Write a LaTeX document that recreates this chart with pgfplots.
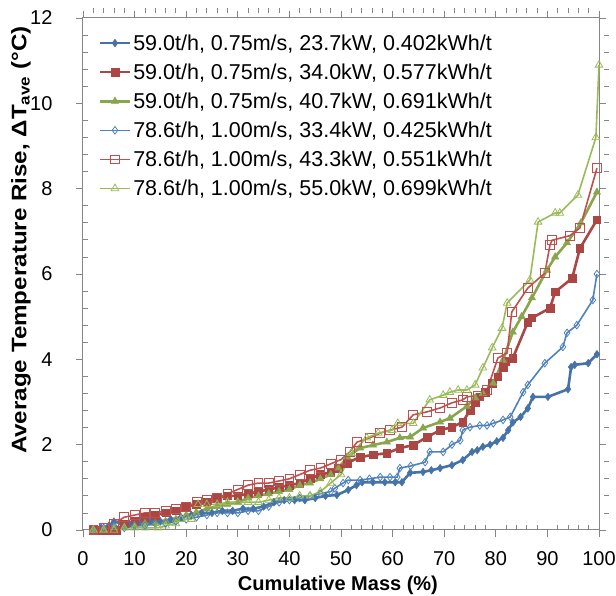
\documentclass[border=0pt]{standalone}
\usepackage{graphicx}
\usepackage{pgfplots}
\pgfplotsset{compat=1.18}
\usepackage{fontspec}
\setmainfont{Liberation Sans}
\definecolor{blueD}{RGB}{69,114,167}
\definecolor{redD}{RGB}{170,70,67}
\definecolor{greenD}{RGB}{137,165,78}
\definecolor{blueL}{RGB}{79,129,189}
\definecolor{redL}{RGB}{192,80,77}
\definecolor{greenL}{RGB}{155,187,89}
\definecolor{axgray}{RGB}{134,134,134}
\begin{document}
\begin{tikzpicture}
\begin{axis}[
  scale only axis, width=516pt, height=512pt,
  xmin=0, xmax=100, ymin=0, ymax=12,
  xtick={0,10,...,100}, ytick={0,2,...,12},
  minor x tick num=4, minor y tick num=4,
  tick align=outside,
  major tick length=7pt, minor tick length=5pt,
  minor x tick style={yshift=5pt},
  minor y tick style={xshift=5pt},
  axis line style={axgray, line width=1pt},
  every tick/.style={axgray, line width=0.8pt},
  /pgf/number format/assume math mode=true,
  ticklabel style={font=\fontsize{20}{23}\selectfont},
  xticklabel style={yshift=-11pt},
  yticklabel style={xshift=-20pt},
  xlabel={\textbf{Cumulative Mass (\%)}},
  ylabel={\scalebox{1.15}[1]{\textbf{Average Temperature Rise, ΔT\textsubscript{ave} (°C)}}},
  label style={font=\fontsize{21}{24}\selectfont},
  xlabel style={at={(axis description cs:0.494,-0.109)}, anchor=center, font=\fontsize{20}{23}\selectfont},
  ylabel style={at={(axis description cs:-0.120,0.566)}, anchor=center},
  legend cell align=left,
  legend style={draw=none, fill=none, at={(0.03,0.972)}, anchor=north west,
    font=\fontsize{21.5}{24}\selectfont, row sep=8pt, inner sep=0pt},
  legend image code/.code={\draw[mark repeat=2,mark phase=2] plot coordinates {(0pt,0pt) (15pt,0pt) (30pt,0pt)};},
  clip=false,
]
\addplot[blueD, line width=2.6pt, mark=diamond*, mark size=3.8pt, mark options={solid, line width=0.5pt, fill=blueD}] coordinates {
(2,0) (3.5,0.05) (5,0.1) (6,0.2) (7.5,0.15) (9,0.15) (11,0.2) (13,0.2) (15,0.2) (17,0.25) (19,0.3) (21,0.35) (23,0.4) (25,0.4) (27,0.45) (29,0.45) (31,0.5) (33,0.5) (35,0.55) (37,0.65) (39,0.7) (41,0.7) (43,0.7) (45,0.75) (47,0.8) (49.2,0.82) (51.4,0.94) (53,1.05) (54.1,1.12) (56.2,1.12) (58.5,1.12) (60.5,1.12) (61.8,1.12) (63.4,1.34) (65.9,1.36) (67.5,1.4) (69.2,1.45) (71.5,1.52) (73.6,1.64) (75.4,1.83) (76.4,1.87) (77.5,1.95) (78.9,2.0) (80.2,2.08) (81.4,2.16) (82.4,2.34) (83.3,2.52) (84.8,2.65) (86.2,2.85) (87.2,3.12) (90.1,3.12) (94,3.3) (94.6,3.82) (95.3,3.87) (97.9,3.91) (99.6,4.12)
};
\addlegendentry{59.0t/h, 0.75m/s, 23.7kW, 0.402kWh/t}
\addplot[redD, line width=2.6pt, mark=square*, mark size=3.8pt, mark options={solid, line width=0.5pt, fill=redD}] coordinates {
(2,0) (3.5,0) (5,0) (6.5,0) (8,0.15) (10,0.2) (12,0.3) (14,0.35) (16,0.4) (18,0.45) (20,0.55) (22,0.6) (24,0.65) (26,0.75) (28,0.8) (30,0.8) (32,0.85) (34,0.9) (36,0.95) (38,1.0) (40,1.05) (42,1.1) (44,1.2) (46,1.3) (48,1.35) (49.5,1.45) (51.2,1.57) (53.7,1.71) (56.2,1.76) (58.9,1.8) (61.4,1.92) (64,1.99) (66.7,2.18) (69.2,2.34) (71.5,2.41) (73.6,2.53) (75,2.81) (76,2.98) (76.9,3.12) (77.9,3.23) (79.3,3.44) (80.4,3.59) (81.4,3.82) (81.8,3.94) (83.3,4.03) (86.2,4.87) (87,4.97) (90.5,5.2) (91.5,5.58) (94.8,5.9) (96.3,6.6) (99.6,7.27)
};
\addlegendentry{59.0t/h, 0.75m/s, 34.0kW, 0.577kWh/t}
\addplot[greenD, line width=2.6pt, mark=triangle*, mark size=4.2pt, mark options={solid, line width=0.5pt, fill=greenD}] coordinates {
(2,0) (4,0) (6,0.05) (8,0.05) (10,0.1) (12,0.15) (14,0.15) (16,0.2) (18,0.25) (20,0.35) (22,0.4) (24,0.5) (26,0.55) (28,0.6) (30,0.65) (32,0.75) (34,0.8) (36,0.85) (38,0.9) (40,0.95) (42,1.05) (44,1.1) (46,1.2) (48,1.3) (49.5,1.45) (51.2,1.71) (53.7,1.92) (56.2,1.99) (58.9,2.06) (61.4,2.16) (63.4,2.18) (65.9,2.39) (69.2,2.53) (71.1,2.62) (74.4,2.9) (76,3.1) (77.5,3.2) (79.5,3.44) (81.4,3.98) (83.3,4.64) (85,5.0) (87,5.44) (89.9,6.09) (91.5,6.4) (93.8,6.73) (96.5,7.2) (99.6,7.92)
};
\addlegendentry{59.0t/h, 0.75m/s, 40.7kW, 0.691kWh/t}
\addplot[blueL, line width=1.6pt, mark=diamond, mark size=3.8pt, mark options={solid, line width=0.8pt, fill=white}] coordinates {
(2,0) (4,0.05) (6,0.1) (8,0.05) (10,0.1) (12,0.1) (14,0.15) (16,0.15) (18,0.2) (20,0.25) (22,0.3) (24,0.35) (26,0.4) (28,0.4) (30,0.4) (32,0.45) (34,0.45) (36,0.55) (38,0.65) (40,0.7) (42,0.75) (44,0.8) (46,0.85) (48,0.9) (48.8,0.98) (50.4,1.1) (51.4,1.17) (53.7,1.17) (55.5,1.2) (57.6,1.24) (59.5,1.24) (60.9,1.24) (61.4,1.45) (63.5,1.5) (66.3,1.59) (67.2,1.83) (69.8,1.83) (71.5,2.0) (73.1,2.1) (73.6,2.34) (75,2.41) (76.9,2.45) (78.3,2.45) (79.5,2.5) (81.4,2.58) (82.8,2.65) (85.3,3.23) (86.2,3.4) (89.5,3.91) (93,4.29) (93.8,4.62) (95.7,4.8) (98.8,5.39) (99.6,6.0)
};
\addlegendentry{78.6t/h, 1.00m/s, 33.4kW, 0.425kWh/t}
\addplot[redL, line width=1.6pt, mark=square, mark size=4.4pt, mark options={solid, line width=0.8pt}] coordinates {
(2,0) (4,0.05) (6,0.15) (8,0.3) (10,0.35) (12,0.4) (14,0.4) (16,0.45) (18,0.5) (20,0.55) (22,0.65) (24,0.7) (26,0.75) (28,0.85) (30,0.95) (32,1.05) (34,1.1) (36,1.1) (38,1.15) (40,1.2) (42,1.3) (44,1.4) (46,1.45) (48,1.55) (50,1.65) (51.7,1.83) (53.1,2.06) (55.6,2.16) (57.6,2.27) (59.5,2.34) (61.8,2.41) (64,2.7) (66.7,2.77) (69.2,2.86) (71.5,2.98) (73.6,3.05) (74.4,3.12) (76.5,3.15) (78.3,3.28) (80.4,4.03) (82.2,4.15) (83.1,5.11) (86.2,5.67) (89.5,6.02) (90.5,6.68) (90.9,6.79) (94.4,6.9) (96.3,7.08) (99.6,8.48)
};
\addlegendentry{78.6t/h, 1.00m/s, 43.3kW, 0.551kWh/t}
\addplot[greenL, line width=1.6pt, mark=triangle, mark size=4.4pt, mark options={solid, line width=0.8pt}] coordinates {
(2,0) (4,0) (6,0) (8,0.05) (10,0.05) (12,0.05) (14.5,0.05) (16,0.1) (18,0.15) (19,0.25) (21,0.25) (22.3,0.6) (24,0.6) (26,0.6) (28,0.65) (30,0.65) (32,0.65) (34,0.65) (36,0.7) (38,0.75) (40,0.75) (42,0.8) (44,0.8) (46,0.9) (48,1.1) (50,1.3) (52,1.8) (55,2.16) (57.2,2.27) (59.9,2.34) (61,2.5) (64,2.5) (67.2,3.05) (69.8,3.16) (71.1,3.23) (72.7,3.28) (74.4,3.28) (76,3.4) (77.5,3.8) (79.3,4.27) (81.2,4.73) (82.2,5.32) (86.6,5.86) (88.2,7.22) (91.5,7.43) (92.4,7.43) (95.9,7.85) (99.4,9.2) (100,10.9)
};
\addlegendentry{78.6t/h, 1.00m/s, 55.0kW, 0.699kWh/t}
\end{axis}
\pgfresetboundingbox
\path[use as bounding box] ([shift={(-83pt,-66pt)}]current axis.south west) rectangle ([shift={(17pt,18pt)}]current axis.north east);
\end{tikzpicture}
\end{document}
